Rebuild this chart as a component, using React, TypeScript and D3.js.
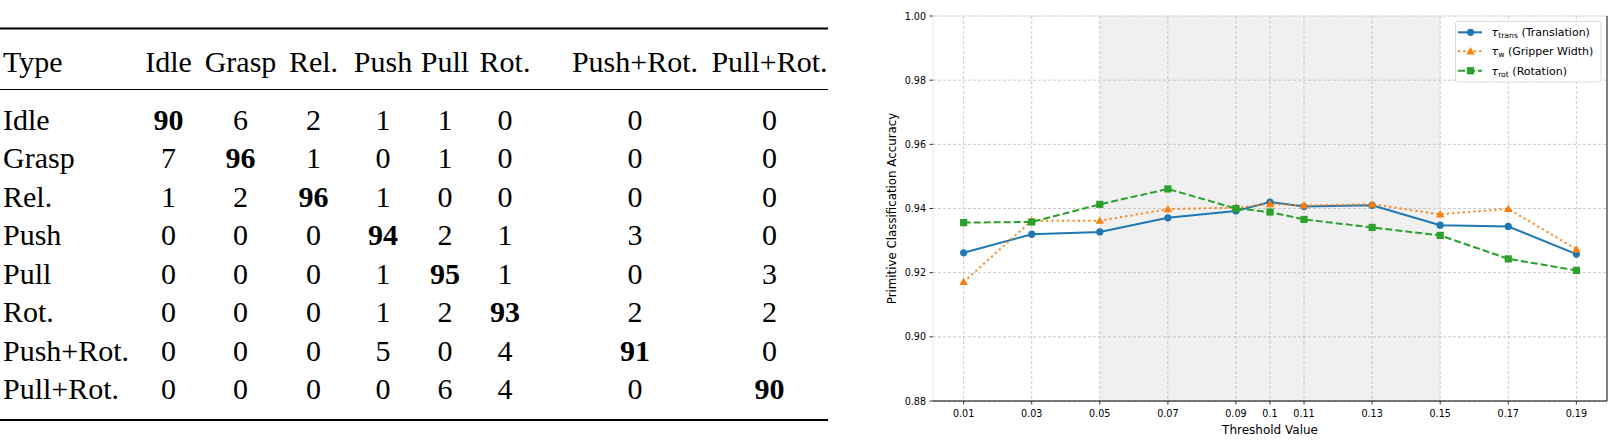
import React from "react";
import * as d3 from "d3";

// ---------- Table data ----------
const classLabels = ["Idle", "Grasp", "Rel.", "Push", "Pull", "Rot.", "Push+Rot.", "Pull+Rot."];
const confusion: number[][] = [
  [90, 6, 2, 1, 1, 0, 0, 0],
  [7, 96, 1, 0, 1, 0, 0, 0],
  [1, 2, 96, 1, 0, 0, 0, 0],
  [0, 0, 0, 94, 2, 1, 3, 0],
  [0, 0, 0, 1, 95, 1, 0, 3],
  [0, 0, 0, 1, 2, 93, 2, 2],
  [0, 0, 0, 5, 0, 4, 91, 0],
  [0, 0, 0, 0, 6, 4, 0, 90],
];

// ---------- Chart data ----------
const thresholds = [0.01, 0.03, 0.05, 0.07, 0.09, 0.1, 0.11, 0.13, 0.15, 0.17, 0.19];
const xTickLabels = ["0.01", "0.03", "0.05", "0.07", "0.09", "0.1", "0.11", "0.13", "0.15", "0.17", "0.19"];
const yTicks = [0.88, 0.9, 0.92, 0.94, 0.96, 0.98, 1.0];
const tauTrans = [0.9262, 0.932, 0.9327, 0.9371, 0.9392, 0.942, 0.9406, 0.941, 0.9348, 0.9344, 0.9258];
const tauW = [0.9171, 0.9362, 0.9362, 0.9398, 0.9403, 0.9414, 0.941, 0.9413, 0.9382, 0.9399, 0.9273];
const tauRot = [0.9356, 0.9358, 0.9413, 0.9461, 0.94, 0.9389, 0.9366, 0.9341, 0.9316, 0.9243, 0.9207];
const shadeRange = [0.05, 0.15];

// ---------- Layout ----------
const W = 1618;
const H = 447;
const TABLE_FONT = "'Liberation Serif', 'Times New Roman', serif";
const CHART_FONT = "'DejaVu Sans', sans-serif";
const colCenters = [168.5, 240.5, 313.5, 383, 445, 505, 635, 769.5];

const plot = { left: 933, right: 1607, top: 16, bottom: 401 };

function Table() {
  const rowY = d3.scaleLinear().domain([0, classLabels.length - 1]).range([130, 399]);
  return (
    <g fontFamily={TABLE_FONT} fontSize={30} fill="#000">
      <line x1={0} x2={828} y1={28.5} y2={28.5} stroke="#000" strokeWidth={2} />
      <line x1={0} x2={828} y1={89.5} y2={89.5} stroke="#000" strokeWidth={1.2} />
      <line x1={0} x2={828} y1={420} y2={420} stroke="#000" strokeWidth={2} />
      <text x={3} y={72}>Type</text>
      {classLabels.map((c, i) => (
        <text key={"h" + i} x={colCenters[i]} y={72} textAnchor="middle">{c}</text>
      ))}
      {classLabels.map((r, i) => (
        <g key={"r" + i}>
          <text x={3} y={rowY(i)}>{r}</text>
          {confusion[i].map((v, j) => (
            <text
              key={j}
              x={colCenters[j]}
              y={rowY(i)}
              textAnchor="middle"
              fontWeight={i === j ? "bold" : "normal"}
            >
              {v}
            </text>
          ))}
        </g>
      ))}
    </g>
  );
}

function Chart() {
  const x = d3.scaleLinear().domain([0.001, 0.199]).range([plot.left, plot.right]);
  const y = d3.scaleLinear().domain([0.88, 1.0]).range([plot.bottom, plot.top]);
  const line = (vals: number[]) =>
    d3.line<number>().x((_, i) => x(thresholds[i])).y((v) => y(v))(vals) || "";

  const series = [
    { vals: tauTrans, color: "#1f77b4", dash: "none", marker: "circle" },
    { vals: tauW, color: "#ff7f0e", dash: "2,3.3", marker: "triangle" },
    { vals: tauRot, color: "#2ca02c", dash: "7,3", marker: "square" },
  ];

  const marker = (kind: string, cx: number, cy: number, color: string, key: any) => {
    if (kind === "circle") return <circle key={key} cx={cx} cy={cy} r={3.6} fill={color} />;
    if (kind === "square")
      return <rect key={key} x={cx - 3.6} y={cy - 3.6} width={7.2} height={7.2} fill={color} />;
    const s = 4.2;
    return (
      <path
        key={key}
        d={`M${cx},${cy - s}L${cx + s},${cy + s * 0.75}L${cx - s},${cy + s * 0.75}Z`}
        fill={color}
      />
    );
  };

  const legendItems = [
    { sub: "trans", rest: " (Translation)" },
    { sub: "w", rest: " (Gripper Width)" },
    { sub: "rot", rest: " (Rotation)" },
  ];
  const legendY = [32.3, 51.3, 70.7];

  return (
    <g fontFamily={CHART_FONT}>
      {/* shaded span */}
      <rect
        x={x(shadeRange[0])}
        y={plot.top}
        width={x(shadeRange[1]) - x(shadeRange[0])}
        height={plot.bottom - plot.top}
        fill="#f0f0f0"
      />
      {/* grid */}
      {thresholds.map((t, i) => (
        <line
          key={"gx" + i}
          x1={x(t)}
          x2={x(t)}
          y1={plot.top}
          y2={plot.bottom}
          stroke="#bdbdbd"
          strokeWidth={0.8}
          strokeDasharray="3,2"
        />
      ))}
      {yTicks.map((t, i) => (
        <line
          key={"gy" + i}
          x1={plot.left}
          x2={plot.right}
          y1={y(t)}
          y2={y(t)}
          stroke="#bdbdbd"
          strokeWidth={0.8}
          strokeDasharray="3,2"
        />
      ))}
      {/* spines */}
      <line x1={plot.left} x2={plot.right} y1={plot.top} y2={plot.top} stroke="#e6e6e6" strokeWidth={1} />
      <line x1={plot.left} x2={plot.left} y1={plot.top} y2={plot.bottom} stroke="#e6e6e6" strokeWidth={1} />
      <line x1={plot.left} x2={plot.right} y1={plot.bottom} y2={plot.bottom} stroke="#000" strokeWidth={1} />
      <line x1={plot.right} x2={plot.right} y1={plot.top} y2={plot.bottom} stroke="#000" strokeWidth={1} />

      {/* series */}
      {series.map((s, k) => (
        <g key={"s" + k}>
          <path d={line(s.vals)} fill="none" stroke={s.color} strokeWidth={2} strokeDasharray={s.dash} />
          {s.vals.map((v, i) => marker(s.marker, x(thresholds[i]), y(v), s.color, i))}
        </g>
      ))}

      {/* y ticks */}
      {yTicks.map((t, i) => (
        <g key={"yt" + i}>
          <line x1={plot.left - 3.5} x2={plot.left} y1={y(t)} y2={y(t)} stroke="#000" strokeWidth={0.8} />
          <text x={plot.left - 7} y={y(t) + 3.5} textAnchor="end" fontSize={9.6} fill="#000">
            {d3.format(".2f")(t)}
          </text>
        </g>
      ))}
      {/* x ticks */}
      {thresholds.map((t, i) => (
        <g key={"xt" + i}>
          <line x1={x(t)} x2={x(t)} y1={plot.bottom} y2={plot.bottom + 3.5} stroke="#000" strokeWidth={0.8} />
          <text x={x(t)} y={plot.bottom + 15.5} textAnchor="middle" fontSize={9.6} fill="#000">
            {xTickLabels[i]}
          </text>
        </g>
      ))}
      {/* axis labels */}
      <text x={(plot.left + plot.right) / 2} y={433.5} textAnchor="middle" fontSize={12} fill="#000">
        Threshold Value
      </text>
      <text
        transform={`translate(896,${(plot.top + plot.bottom) / 2}) rotate(-90)`}
        textAnchor="middle"
        fontSize={11.8}
        fill="#000"
      >
        Primitive Classification Accuracy
      </text>

      {/* legend */}
      <rect x={1455.5} y={21.5} width={145.5} height={60.5} rx={2} fill="#fff" fillOpacity={0.85} stroke="#d0d0d0" strokeWidth={0.8} />
      {legendItems.map((l, i) => {
        const s = series[i];
        const ly = legendY[i];
        return (
          <g key={"lg" + i}>
            <line x1={1458} x2={1482} y1={ly} y2={ly} stroke={s.color} strokeWidth={2} strokeDasharray={s.dash} />
            {marker(s.marker, 1470.5, ly, s.color, "m")}
            <text x={1491.5} y={ly + 4} fontSize={11} fill="#000">
              <tspan fontStyle="italic">τ</tspan>
              <tspan fontSize={7.7} dy={2}>{l.sub}</tspan>
              <tspan dy={-2}>{l.rest}</tspan>
            </text>
          </g>
        );
      })}
    </g>
  );
}

export default function App() {
  return (
    <div style={{ position: "absolute", left: 0, top: 0 }}>
      <svg width={W} height={H} viewBox={`0 0 ${W} ${H}`} style={{ display: "block", background: "#fff" }}>
        <rect width={W} height={H} fill="#fff" />
        <Table />
        <Chart />
      </svg>
    </div>
  );
}
